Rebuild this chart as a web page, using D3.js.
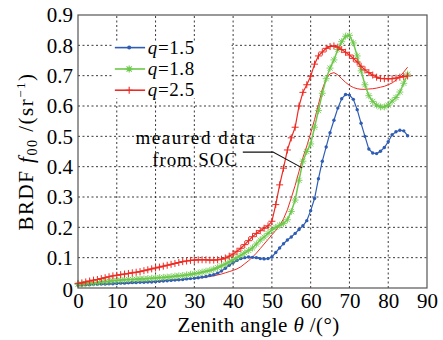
<!DOCTYPE html>
<html>
<head>
<meta charset="utf-8">
<script src="https://cdn.jsdelivr.net/npm/d3@7"></script>
<style>
html,body{margin:0;padding:0;background:#fff;}
svg{display:block;}
svg text{font-family:"Liberation Serif","DejaVu Serif",serif !important;fill:#000;}
</style>
</head>
<body>
<svg id="chart" width="443" height="340"></svg>
<script>
// ---- data ----
const theta = d3.range(0, 86); // zenith angle, degrees 0..85
const q15 = [0.010,0.010,0.011,0.011,0.012,0.012,0.013,0.013,0.014,0.014,
 0.015,0.016,0.016,0.017,0.018,0.018,0.019,0.019,0.020,0.020,
 0.021,0.022,0.023,0.024,0.025,0.026,0.027,0.028,0.030,0.031,
 0.032,0.034,0.036,0.038,0.041,0.044,0.049,0.056,0.065,0.075,
 0.084,0.091,0.097,0.100,0.102,0.101,0.100,0.097,0.096,0.097,
 0.102,0.117,0.132,0.146,0.158,0.168,0.180,0.193,0.205,0.222,
 0.255,0.295,0.360,0.418,0.465,0.512,0.553,0.593,0.624,0.638,
 0.636,0.622,0.588,0.543,0.500,0.458,0.445,0.443,0.451,0.463,
 0.482,0.505,0.515,0.520,0.518,0.502];
const q18 = [0.012,0.013,0.014,0.016,0.017,0.018,0.020,0.021,0.022,0.024,
 0.025,0.026,0.027,0.028,0.028,0.029,0.030,0.030,0.031,0.032,
 0.033,0.034,0.035,0.036,0.037,0.039,0.040,0.041,0.043,0.045,
 0.047,0.049,0.052,0.055,0.058,0.062,0.067,0.073,0.079,0.086,
 0.093,0.100,0.108,0.116,0.124,0.132,0.145,0.158,0.168,0.180,
 0.192,0.200,0.207,0.213,0.225,0.252,0.290,0.355,0.418,0.450,
 0.475,0.530,0.585,0.642,0.690,0.725,0.752,0.786,0.812,0.830,
 0.833,0.808,0.765,0.716,0.670,0.634,0.615,0.603,0.597,0.597,
 0.603,0.616,0.628,0.646,0.675,0.705];
const q25 = [0.015,0.017,0.020,0.023,0.026,0.028,0.031,0.034,0.037,0.040,
 0.042,0.044,0.046,0.048,0.050,0.052,0.054,0.057,0.060,0.063,
 0.066,0.069,0.072,0.075,0.078,0.081,0.084,0.087,0.089,0.091,
 0.092,0.093,0.093,0.093,0.092,0.092,0.093,0.095,0.099,0.105,
 0.112,0.121,0.131,0.143,0.156,0.169,0.180,0.189,0.197,0.205,
 0.220,0.275,0.340,0.395,0.455,0.495,0.530,0.600,0.645,0.670,
 0.698,0.738,0.765,0.778,0.790,0.796,0.798,0.794,0.786,0.777,
 0.768,0.757,0.745,0.731,0.719,0.710,0.702,0.695,0.691,0.690,
 0.690,0.690,0.692,0.695,0.697,0.699];
const measured = [0.010,0.010,0.011,0.011,0.012,0.012,0.012,0.013,0.013,0.014,
 0.015,0.015,0.016,0.016,0.017,0.018,0.018,0.019,0.020,0.021,
 0.022,0.023,0.024,0.025,0.026,0.027,0.027,0.028,0.030,0.031,
 0.032,0.033,0.034,0.036,0.038,0.040,0.043,0.046,0.050,0.054,
 0.058,0.063,0.070,0.080,0.090,0.102,0.115,0.130,0.145,0.160,
 0.175,0.190,0.206,0.228,0.258,0.297,0.338,0.385,0.430,0.468,
 0.510,0.555,0.605,0.655,0.690,0.706,0.710,0.703,0.690,0.678,
 0.668,0.661,0.657,0.655,0.655,0.656,0.657,0.659,0.662,0.665,
 0.670,0.676,0.685,0.697,0.712,0.728];
const xTicks = [0,10,20,30,40,50,60,70,80,90];
const yTicks = [0,0.1,0.2,0.3,0.4,0.5,0.6,0.7,0.8,0.9];
const legendLabels = ["1.5","1.8","2.5"];

// ---- scales ----
const svg = d3.select("#chart");
const x = d3.scaleLinear().domain([0,90]).range([78,427]);
const y = d3.scaleLinear().domain([0,0.9]).range([288,15]);

const colBlue = "#2f5db4", colGreen = "#6cc84a", colRed = "#ee2a22";
const FONT = "Liberation Serif";
const FS = 21;   // tick labels / axis titles
const FS2 = 19;  // legend / annotation

// ---- grid ----
const grid = svg.append("g");
grid.selectAll("line.vx").data(xTicks.slice(1,-1)).enter().append("line")
  .attr("x1",d=>x(d)).attr("x2",d=>x(d)).attr("y1",y(0)).attr("y2",y(0.9))
  .attr("stroke","#222").attr("stroke-width",0.9).attr("stroke-dasharray","2,2.5");
grid.selectAll("line.hy").data(yTicks.slice(1,-1)).enter().append("line")
  .attr("y1",d=>y(d)).attr("y2",d=>y(d)).attr("x1",x(0)).attr("x2",x(90))
  .attr("stroke","#222").attr("stroke-width",0.9).attr("stroke-dasharray","2,2.5");

// legend background (hides grid)
svg.append("rect").attr("x",x(9)).attr("y",y(0.81)).attr("width",x(39.6)-x(9)).attr("height",y(0.625)-y(0.81)).attr("fill","#fff");

// ---- axes ----
const xAxis = d3.axisBottom(x).tickValues(xTicks).tickSize(0).tickPadding(5).tickFormat(d3.format("d"));
const yAxis = d3.axisLeft(y).tickValues(yTicks).tickSize(0).tickPadding(5).tickFormat(d=>d===0?"0":d3.format(".1f")(d));
const gx = svg.append("g").attr("transform",`translate(0,${y(0)})`).call(xAxis);
const gy = svg.append("g").attr("transform",`translate(${x(0)},0)`).call(yAxis);
[gx,gy].forEach(g=>{g.attr("font-family",FONT).attr("font-size",FS);g.select(".domain").remove();g.selectAll("text").style("font-family",FONT).attr("font-size",FS).attr("fill","#000");});
gy.selectAll("text").filter(d=>d===0).attr("dy","0.4em");

// ---- series ----
const line = d3.line().x(d=>x(d[0])).y(d=>y(d[1]));
function pts(arr){return theta.map((t,i)=>[t,arr[i]]);}

// measured
svg.append("path").datum(pts(measured)).attr("d",line).attr("fill","none").attr("stroke",colRed).attr("stroke-width",1);

// q=1.5 blue dots
svg.append("path").datum(pts(q15)).attr("d",line).attr("fill","none").attr("stroke",colBlue).attr("stroke-width",1.2);
svg.append("g").selectAll("circle").data(pts(q15)).enter().append("circle")
  .attr("cx",d=>x(d[0])).attr("cy",d=>y(d[1])).attr("r",1.7).attr("fill",colBlue);

// q=1.8 green stars
svg.append("path").datum(pts(q18)).attr("d",line).attr("fill","none").attr("stroke",colGreen).attr("stroke-width",1.5);
const star = "M-3.5,0H3.5M0,-3.5V3.5M-2.6,-2.6L2.6,2.6M-2.6,2.6L2.6,-2.6";
svg.append("g").selectAll("path").data(pts(q18)).enter().append("path")
  .attr("transform",d=>`translate(${x(d[0])},${y(d[1])})`).attr("d",star)
  .attr("stroke",colGreen).attr("stroke-width",1).attr("fill","none").attr("opacity",0.85);

// q=2.5 red plus
svg.append("path").datum(pts(q25)).attr("d",line).attr("fill","none").attr("stroke",colRed).attr("stroke-width",1.2);
const plus = "M-3.5,0H3.5M0,-3.5V3.5";
svg.append("g").selectAll("path").data(pts(q25)).enter().append("path")
  .attr("transform",d=>`translate(${x(d[0])},${y(d[1])})`).attr("d",plus)
  .attr("stroke",colRed).attr("stroke-width",1).attr("fill","none");

// ---- frame ----
svg.append("rect").attr("x",x(0)).attr("y",y(0.9)).attr("width",x(90)-x(0)).attr("height",y(0)-y(0.9))
  .attr("fill","none").attr("stroke","#555").attr("stroke-width",1.2);

// ---- legend ----
const leg = svg.append("g");
const legColors = [colBlue,colGreen,colRed];
const legMarks = ["dot","star","plus"];
const legRows = [0.7925,0.722,0.652];
legendLabels.forEach((lab,i)=>{
  const yy = y(legRows[i]);
  leg.append("line").attr("x1",x(9.5)).attr("x2",x(17.3)).attr("y1",yy).attr("y2",yy)
    .attr("stroke",legColors[i]).attr("stroke-width",1.6);
  const cx = x(13.2);
  if(legMarks[i]==="dot") leg.append("circle").attr("cx",cx).attr("cy",yy).attr("r",2).attr("fill",legColors[i]);
  if(legMarks[i]==="star") leg.append("path").attr("transform",`translate(${cx},${yy})`).attr("d",star).attr("stroke",legColors[i]).attr("stroke-width",1.1);
  if(legMarks[i]==="plus") leg.append("path").attr("transform",`translate(${cx},${yy})`).attr("d",plus).attr("stroke",legColors[i]).attr("stroke-width",1.1);
  const t = leg.append("text").attr("x",x(18.0)).attr("y",yy+6).attr("font-size",FS2).attr("letter-spacing",0.6).style("font-family",FONT);
  t.append("tspan").attr("font-style","italic").text("q");
  t.append("tspan").text("=" + lab);
});

// ---- annotation ----
const ann = svg.append("g");
ann.append("text").attr("x",x(30.4)).attr("y",y(0.474)).attr("text-anchor","middle").attr("font-size",FS2).attr("letter-spacing",1.6).style("font-family",FONT).text("meaured data");
ann.append("text").attr("x",x(30.2)).attr("y",y(0.403)).attr("text-anchor","middle").attr("font-size",FS2).attr("letter-spacing",0.9).style("font-family",FONT).text("from SOC");
ann.append("path").attr("d",d3.line()([[x(42.5),y(0.448)],[x(50.3),y(0.448)],[x(57.8),y(0.396)]]))
  .attr("fill","none").attr("stroke","#111").attr("stroke-width",1.1);

// ---- axis titles ----
const xt = svg.append("text").attr("x",(x(0)+x(90))/2+6).attr("y",332).attr("text-anchor","middle").attr("font-size",FS).attr("letter-spacing",0.4).style("font-family",FONT);
xt.append("tspan").text("Zenith angle ");
xt.append("tspan").attr("font-style","italic").text("θ");
xt.append("tspan").text(" /(°)");

const yt = svg.append("text").attr("transform",`translate(33,${(y(0)+y(0.9))/2}) rotate(-90)`).attr("text-anchor","middle").attr("font-size",FS).attr("letter-spacing",1.5).style("font-family",FONT);
yt.append("tspan").text("BRDF ");
yt.append("tspan").attr("font-style","italic").text("f");
yt.append("tspan").attr("font-size",14).attr("dy",4).text("00");
yt.append("tspan").attr("dy",-4).text(" /(sr");
yt.append("tspan").attr("font-size",13).attr("dy",-8).text("−1");
yt.append("tspan").attr("dy",8).text(")");
</script>
</body>
</html>
